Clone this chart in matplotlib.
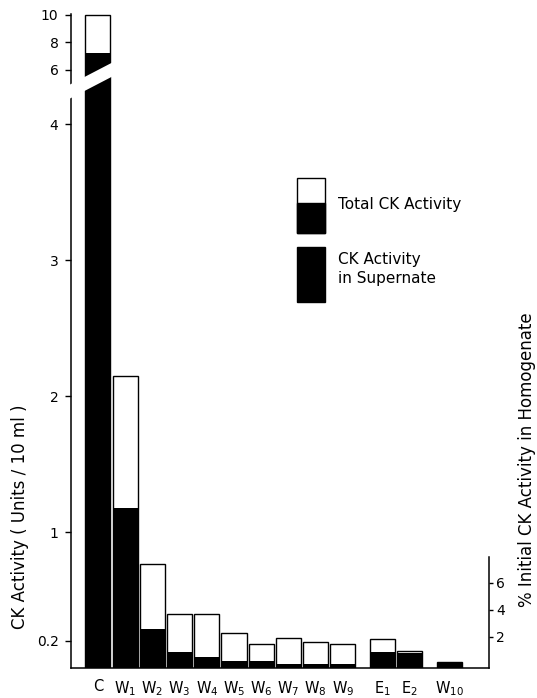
import matplotlib
matplotlib.use('Agg')
import matplotlib.pyplot as plt
from matplotlib.patches import Polygon, Rectangle
import numpy as np

# ---- data ----
categories = ['C', 'W1', 'W2', 'W3', 'W4', 'W5', 'W6', 'W7', 'W8', 'W9', 'E1', 'E2', 'W10']
groups = [0, 0, 0, 0, 0, 0, 0, 0, 0, 0, 1, 1, 2]
total_activity = [10.0, 2.15, 0.765, 0.40, 0.40, 0.26, 0.18, 0.22, 0.19, 0.18, 0.21, 0.125, 0.045]
supernate_activity = [7.2, 1.18, 0.29, 0.12, 0.08, 0.05, 0.05, 0.03, 0.03, 0.03, 0.12, 0.11, 0.04]
left_ticks_low = [0.2, 1, 2, 3, 4]
left_ticklabels_low = ['0.2', '1', '2', '3', '4']
left_ticks_high = [6, 8, 10]
right_ticks = [2, 4, 6]

# ---- layout helpers ----
W, H = 537, 698
def fx(px):
    return px / W
def fy(py):
    return 1 - py / H

fig = plt.figure(figsize=(W / 100, H / 100), dpi=100)

L, R = 71, 489
base_y, break_y, top_y = 668, 88, 14
ax = fig.add_axes([fx(L), fy(base_y), fx(R) - fx(L), fy(break_y) - fy(base_y)])
axu = fig.add_axes([fx(L), fy(break_y), fx(R) - fx(L), fy(top_y) - fy(break_y)])

gap = 0.46
pos = np.arange(len(categories)) + np.array(groups) * gap
labels = [c if len(c) == 1 else c[0] + r'$_{\mathregular{' + c[1:] + '}}$' for c in categories]
bw = 0.92

for a in (ax, axu):
    a.bar(pos, total_activity, width=bw, color='white', edgecolor='black', linewidth=1.0, zorder=2)
    a.bar(pos, supernate_activity, width=bw, color='black', edgecolor='none', zorder=3)
    a.set_xlim(-0.99, 14.37)

# lower axes (linear 0 - ~4.27)
ax.set_ylim(0, 4.265)
ax.spines['top'].set_visible(False)
ax.spines['right'].set_visible(False)
for s in ('left', 'bottom'):
    ax.spines[s].set_linewidth(1.1)
ax.set_yticks(left_ticks_low)
ax.set_yticklabels(left_ticklabels_low)
ax.tick_params(axis='y', direction='out', length=4, width=1, pad=5, labelsize=10)
ax.set_xticks(pos)
ax.set_xticklabels(labels)
ax.tick_params(axis='x', length=0, pad=8, labelsize=10.5)

# upper axes (broken part)
axu.set_ylim(4.69, 10.07)
for s in ('top', 'right', 'bottom'):
    axu.spines[s].set_visible(False)
axu.spines['left'].set_linewidth(1.1)
axu.set_yticks(left_ticks_high)
axu.set_yticklabels([str(t) for t in left_ticks_high])
axu.tick_params(axis='y', direction='out', length=4, width=1, pad=5, labelsize=10)
axu.tick_params(axis='x', bottom=False, labelbottom=False)

# right axis: % of initial activity
axr = ax.twinx()
axr.set_ylim(-0.3, 42.67)
for s in ('top', 'left', 'bottom'):
    axr.spines[s].set_visible(False)
axr.spines['right'].set_linewidth(1.1)
axr.spines['right'].set_bounds(-0.3, 7.93)
axr.set_yticks(right_ticks)
axr.set_yticklabels([str(t) for t in right_ticks])
axr.tick_params(axis='y', direction='out', length=3, width=1, pad=2, labelsize=10)

# break band (white diagonal across the axis and the C bar)
def band_y(x):
    return 84 - 0.52 * (x - 71)
xa, xb = 58, 116
band = Polygon([(fx(xa), fy(band_y(xa))), (fx(xb), fy(band_y(xb))),
                (fx(xb), fy(band_y(xb) + 14)), (fx(xa), fy(band_y(xa) + 14))],
               closed=True, transform=fig.transFigure, facecolor='white',
               edgecolor='none', zorder=10)
fig.add_artist(band)

# legend
bx0, bx1 = 297, 325
fig.add_artist(Rectangle((fx(bx0), fy(233)), fx(bx1) - fx(bx0), fy(178) - fy(233),
                         transform=fig.transFigure, facecolor='white', edgecolor='black', linewidth=1.0))
fig.add_artist(Rectangle((fx(bx0), fy(233)), fx(bx1) - fx(bx0), fy(203) - fy(233),
                         transform=fig.transFigure, facecolor='black', edgecolor='black', linewidth=1.0))
fig.add_artist(Rectangle((fx(bx0), fy(302)), fx(bx1) - fx(bx0), fy(247) - fy(302),
                         transform=fig.transFigure, facecolor='black', edgecolor='black', linewidth=1.0))
fig.text(fx(338), fy(204), 'Total CK Activity', va='center', ha='left', fontsize=11)
fig.text(fx(338), fy(260), 'CK Activity', va='center', ha='left', fontsize=11)
fig.text(fx(338), fy(279), 'in Supernate', va='center', ha='left', fontsize=11)

# axis titles
fig.text(fx(20), fy(517), 'CK Activity ( Units / 10 ml )', rotation=90,
         ha='center', va='center', fontsize=12)
fig.text(fx(527), fy(460), '% Initial CK Activity in Homogenate', rotation=90,
         ha='center', va='center', fontsize=12)

fig.savefig('out.png', dpi=100)
